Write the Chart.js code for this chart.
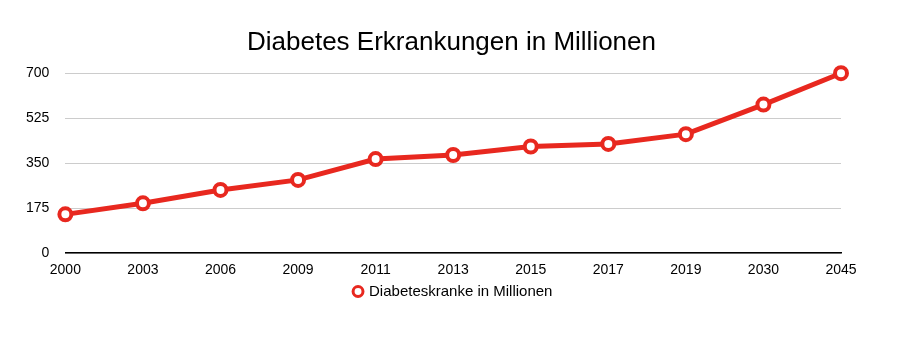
<!DOCTYPE html>
<html>
<head>
<meta charset="utf-8">
<script src="https://cdn.jsdelivr.net/npm/chart.js@4/dist/chart.umd.min.js"></script>
<style>
  html, body { margin: 0; padding: 0; background: #fff; }
  #wrap { width: 899px; height: 347px; }
</style>
</head>
<body>
<div id="wrap"><canvas id="diabetesChart"></canvas></div>
<script>
const years = ["2000", "2003", "2006", "2009", "2011", "2013", "2015", "2017", "2019", "2030", "2045"];
const patients = [151, 194, 246, 285, 366, 382, 415, 425, 463, 578, 700];
const yTicks = [0, 175, 350, 525, 700];

const red = "#e8281f";
const font = "Liberation Sans, Arial, sans-serif";

// centre title and legend on the whole canvas, pull the legend up a little
const layoutTweaks = {
  id: "layoutTweaks",
  afterLayout(chart) {
    const t = chart.titleBlock;
    if (t) { t.left = 4; t.right = chart.width; t.width = t.right - t.left; }
    const lg = chart.legend;
    if (lg) {
      const shift = (0 + chart.width + 8) / 2 - (lg.left + lg.right) / 2;
      lg.left += shift; lg.right += shift;
      lg.top -= 5; lg.bottom -= 5;
    }
  }
};

document.addEventListener("DOMContentLoaded", () => {
  const ctx = document.getElementById("diabetesChart").getContext("2d");
  new Chart(ctx, {
    type: "line",
    data: {
      labels: years,
      datasets: [{
        label: "Diabeteskranke in Millionen",
        data: patients,
        borderColor: red,
        backgroundColor: "#ffffff",
        borderWidth: 5,
        pointRadius: 6,
        pointBorderWidth: 4,
        pointBackgroundColor: "#ffffff",
        pointBorderColor: red,
        tension: 0,
        clip: false
      }]
    },
    plugins: [layoutTweaks],
    options: {
      responsive: true,
      maintainAspectRatio: false,
      animation: false,
      layout: { padding: { left: 10, right: 58, top: 16, bottom: 33 } },
      plugins: {
        title: {
          display: true,
          text: "Diabetes Erkrankungen in Millionen",
          color: "#000",
          font: { family: font, size: 26, weight: "normal" },
          padding: { top: 11, bottom: 15 }
        },
        legend: {
          position: "bottom",
          labels: {
            usePointStyle: true,
            pointStyle: "circle",
            boxWidth: 7,
            boxHeight: 7,
            padding: 1,
            color: "#000",
            font: { family: font, size: 15 },
            generateLabels: chart => {
              const items = Chart.defaults.plugins.legend.labels.generateLabels(chart);
              items.forEach(it => { it.lineWidth = 3; it.fillStyle = "#fff"; });
              return items;
            }
          }
        },
        tooltip: { enabled: false }
      },
      scales: {
        x: {
          offset: false,
          grid: { display: false, drawTicks: false },
          border: { display: true, color: "#000", width: 1.5 },
          ticks: {
            color: "#000",
            padding: 9,
            maxRotation: 0,
            font: { family: font, size: 14 }
          }
        },
        y: {
          min: 0,
          max: 700,
          afterBuildTicks: axis => { axis.ticks = yTicks.map(v => ({ value: v })); },
          grid: { color: "#cccccc", lineWidth: 1, drawTicks: false },
          border: { display: false },
          ticks: {
            color: "#000",
            padding: 16,
            font: { family: font, size: 14 }
          }
        }
      }
    }
  });
});
</script>
</body>
</html>
